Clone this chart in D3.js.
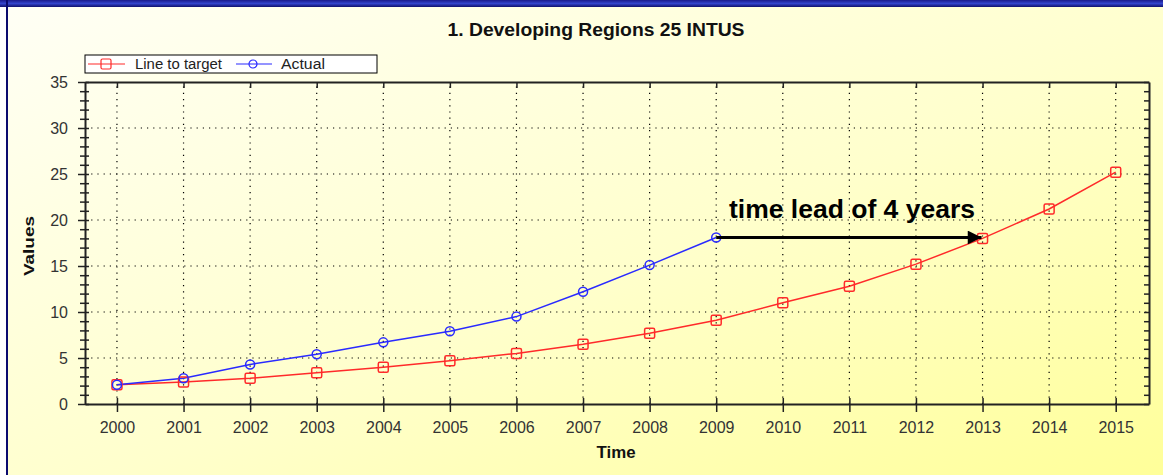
<!DOCTYPE html>
<html>
<head>
<meta charset="UTF-8">
<script src="https://d3js.org/d3.v7.min.js"></script>
<style>
  body { margin: 0; background: #fff; }
  text { font-family: Arial, "Liberation Sans", sans-serif; }
</style>
</head>
<body>
<svg width="1163" height="475"></svg>
<script>
// chart data
const years = d3.range(2000, 2016);
const target = [2.1, 2.4, 2.8, 3.4, 4.0, 4.7, 5.5, 6.5, 7.7, 9.1, 11.0, 12.8, 15.2, 18.0, 21.2, 25.2];
const actualYears = d3.range(2000, 2010);
const actual = [2.1, 2.8, 4.3, 5.4, 6.7, 7.9, 9.5, 12.2, 15.1, 18.1];
const yTicks = [0, 5, 10, 15, 20, 25, 30, 35];

const svg = d3.select("svg");

// background gradient + frame
const defs = svg.append("defs");
const bg = defs.append("linearGradient").attr("id", "bg")
  .attr("x1", "0%").attr("y1", "0%").attr("x2", "100%").attr("y2", "100%");
bg.append("stop").attr("offset", "0%").attr("stop-color", "#fffff6");
bg.append("stop").attr("offset", "55%").attr("stop-color", "#ffffcc");
bg.append("stop").attr("offset", "100%").attr("stop-color", "#ffff99");
const topBar = defs.append("linearGradient").attr("id", "topbar")
  .attr("x1", "0").attr("y1", "0").attr("x2", "0").attr("y2", "1");
topBar.append("stop").attr("offset", "0%").attr("stop-color", "#1a1a8c");
topBar.append("stop").attr("offset", "50%").attr("stop-color", "#3344cc");
topBar.append("stop").attr("offset", "100%").attr("stop-color", "#10106e");

svg.append("rect").attr("x", 7).attr("y", 0).attr("width", 1156).attr("height", 475).attr("fill", "url(#bg)");
svg.append("rect").attr("x", 0).attr("y", 0).attr("width", 1163).attr("height", 7).attr("fill", "url(#topbar)");
svg.append("rect").attr("x", 6).attr("y", 0).attr("width", 2).attr("height", 475).attr("fill", "#0a0a6e");

const pLeft = 85, pRight = 1149, pTop = 82, pBottom = 404;

const x = d3.scaleLinear().domain([1999.52, 2015.5]).range([pLeft, pRight]);
const y = d3.scaleLinear().domain([0, 35]).range([pBottom, pTop]);

// title
svg.append("text").attr("x", 596).attr("y", 36).attr("text-anchor", "middle")
  .attr("font-size", 18).attr("font-weight", "bold").attr("fill", "#111")
  .attr("textLength", 297).attr("lengthAdjust", "spacingAndGlyphs")
  .text("1. Developing Regions 25 INTUS");

// gridlines
const grid = svg.append("g").attr("stroke", "#000").attr("stroke-width", 1.2).attr("stroke-dasharray", "1.2,5");
grid.selectAll(".vg").data(years).join("line")
  .attr("x1", d => x(d)).attr("x2", d => x(d)).attr("y1", pBottom).attr("y2", pTop);
grid.selectAll(".hg").data(yTicks.slice(1, -1)).join("line")
  .attr("x1", pLeft).attr("x2", pRight).attr("y1", d => y(d)).attr("y2", d => y(d));

// axes
const axisColor = "#222";
const xAxis = svg.append("g").attr("transform", `translate(0,${pBottom})`)
  .call(d3.axisBottom(x).tickValues(years).tickFormat(d3.format("d")).tickSizeOuter(0));
xAxis.selectAll(".tick line").attr("y1", -6).attr("y2", 8);
xAxis.selectAll(".tick text").attr("dy", 0).attr("y", 29).attr("font-size", 16).attr("fill", "#333");

const yAxis = svg.append("g").attr("transform", `translate(${pLeft},0)`)
  .call(d3.axisLeft(y).tickValues(d3.range(0, 36)).tickFormat(d => d % 5 === 0 ? d : "").tickSizeOuter(0));
yAxis.selectAll(".tick line").attr("x1", 4).attr("x2", d => d % 5 === 0 ? -7 : -5);
yAxis.selectAll(".tick text").attr("x", -17).attr("font-size", 16).attr("fill", "#333");

const topAxis = svg.append("g").attr("transform", `translate(0,${pTop})`)
  .call(d3.axisTop(x).tickValues(years).tickFormat("").tickSizeOuter(0));
topAxis.selectAll(".tick line").attr("y1", 0).attr("y2", 6);

const rightAxis = svg.append("g").attr("transform", `translate(${pRight},0)`)
  .call(d3.axisRight(y).tickValues(d3.range(0, 36)).tickFormat("").tickSizeOuter(0));
rightAxis.selectAll(".tick line").attr("x1", 0).attr("x2", -5);

svg.selectAll(".domain").attr("stroke", axisColor).attr("stroke-width", 2);
svg.selectAll(".tick line").attr("stroke", axisColor).attr("stroke-width", 1.5);
svg.selectAll(".tick text").attr("font-family", "Arial, 'Liberation Sans', sans-serif");

// axis titles
svg.append("text").attr("x", 616).attr("y", 458).attr("text-anchor", "middle")
  .attr("font-size", 16).attr("font-weight", "bold").attr("fill", "#111")
  .attr("textLength", 39).attr("lengthAdjust", "spacingAndGlyphs").text("Time");
svg.append("text").attr("transform", "translate(34,246) rotate(-90)").attr("text-anchor", "middle")
  .attr("font-size", 15).attr("font-weight", "bold").attr("fill", "#111")
  .attr("textLength", 60).attr("lengthAdjust", "spacingAndGlyphs").text("Values");

// lines
const line = d3.line().x(d => x(d[0])).y(d => y(d[1]));
const tData = years.map((yr, i) => [yr, target[i]]);
const aData = actualYears.map((yr, i) => [yr, actual[i]]);

svg.append("path").datum(tData).attr("d", line).attr("fill", "none").attr("stroke", "#ff2a2a").attr("stroke-width", 1.5);
svg.append("path").datum(aData).attr("d", line).attr("fill", "none").attr("stroke", "#2a2aff").attr("stroke-width", 1.5);

svg.selectAll(".sq").data(tData).join("rect")
  .attr("x", d => x(d[0]) - 5).attr("y", d => y(d[1]) - 5).attr("width", 10).attr("height", 10)
  .attr("rx", 1.5).attr("fill", "none").attr("stroke", "#ff2a2a").attr("stroke-width", 1.5);
svg.selectAll(".ci").data(aData).join("circle")
  .attr("cx", d => x(d[0])).attr("cy", d => y(d[1])).attr("r", 4.5)
  .attr("fill", "none").attr("stroke", "#2a2aff").attr("stroke-width", 1.5);

// annotation arrow
defs.append("marker").attr("id", "arrow").attr("viewBox", "0 0 10 10")
  .attr("refX", 10).attr("refY", 5).attr("markerWidth", 5.3).attr("markerHeight", 4.6)
  .attr("markerUnits", "strokeWidth").attr("orient", "auto")
  .append("path").attr("d", "M0,0 L10,5 L0,10 Z").attr("fill", "#000");
const lead = 4;
const fromYear = actualYears[actualYears.length - 1];
svg.append("line")
  .attr("x1", x(fromYear)).attr("y1", y(actual[actual.length - 1]))
  .attr("x2", x(fromYear + lead) - 1).attr("y2", y(actual[actual.length - 1]))
  .attr("stroke", "#000").attr("stroke-width", 3).attr("marker-end", "url(#arrow)");
svg.append("text").attr("x", 852).attr("y", 218).attr("text-anchor", "middle")
  .attr("font-size", 25).attr("font-weight", "bold").attr("fill", "#000")
  .attr("textLength", 246).attr("lengthAdjust", "spacingAndGlyphs")
  .text("time lead of " + lead + " years");

// legend
const lg = svg.append("g").attr("transform", "translate(85,55)");
lg.append("rect").attr("width", 292).attr("height", 18).attr("fill", "#fff").attr("stroke", "#000").attr("stroke-width", 1);
lg.append("line").attr("x1", 3).attr("x2", 40).attr("y1", 9).attr("y2", 9).attr("stroke", "#ff2a2a").attr("stroke-width", 1.2);
lg.append("rect").attr("x", 16).attr("y", 4).attr("width", 10).attr("height", 10).attr("rx", 1.5)
  .attr("fill", "none").attr("stroke", "#ff2a2a").attr("stroke-width", 1.2);
lg.append("text").attr("x", 50).attr("y", 14).attr("font-size", 14).attr("fill", "#222")
  .attr("textLength", 87).attr("lengthAdjust", "spacingAndGlyphs").text("Line to target");
lg.append("line").attr("x1", 151).attr("x2", 187).attr("y1", 9).attr("y2", 9).attr("stroke", "#2a2aff").attr("stroke-width", 1.2);
lg.append("circle").attr("cx", 168).attr("cy", 9).attr("r", 4)
  .attr("fill", "none").attr("stroke", "#2a2aff").attr("stroke-width", 1.2);
lg.append("text").attr("x", 196).attr("y", 14).attr("font-size", 14).attr("fill", "#222")
  .attr("textLength", 44).attr("lengthAdjust", "spacingAndGlyphs").text("Actual");
</script>
</body>
</html>
